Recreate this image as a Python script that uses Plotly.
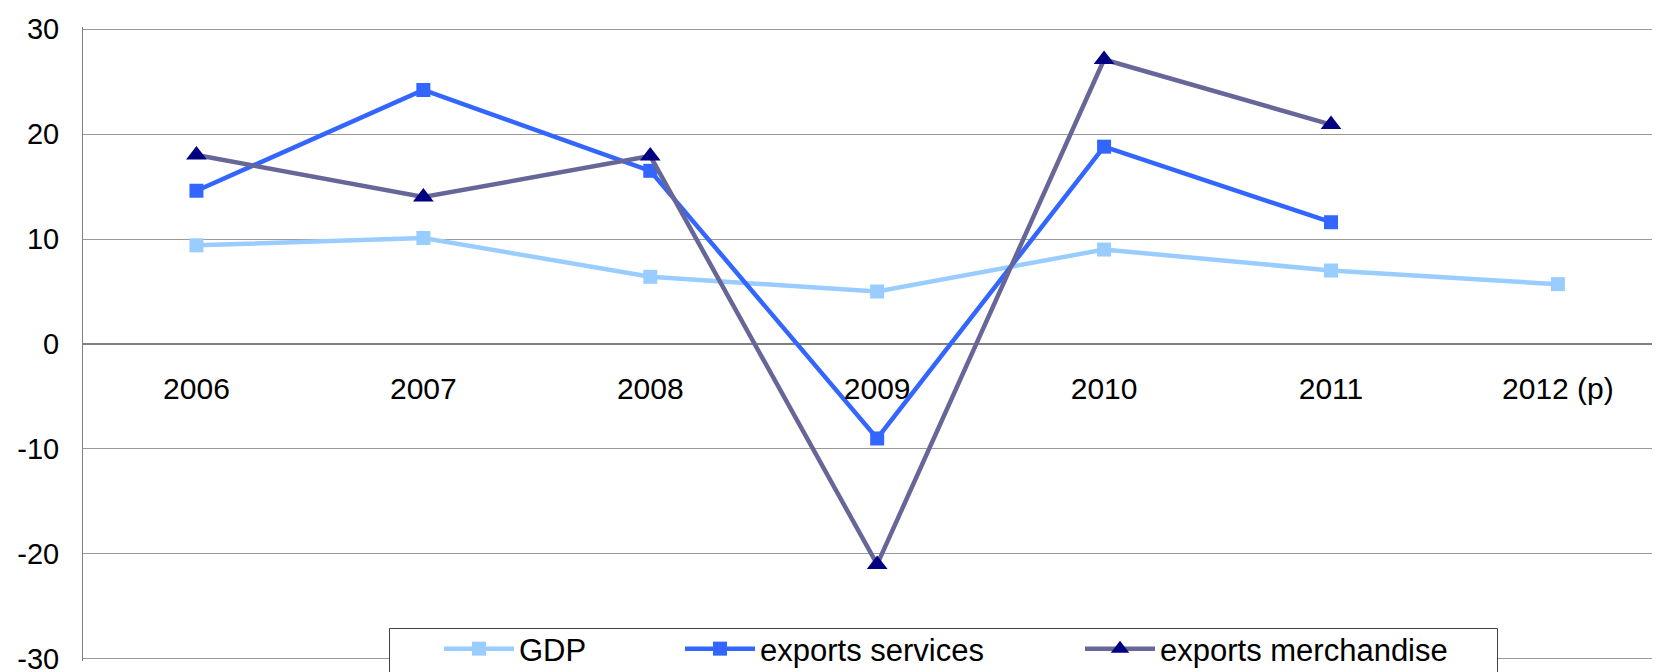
import plotly.graph_objects as go

years = ["2006", "2007", "2008", "2009", "2010", "2011", "2012 (p)"]
gdp = [9.4, 10.1, 6.4, 5.0, 9.0, 7.0, 5.7]
exports_services = [14.6, 24.2, 16.5, -9.0, 18.8, 11.6, None]
exports_merchandise = [18.0, 14.0, 17.9, -21.0, 27.1, 20.9, None]
y_tick_vals = [-30, -20, -10, 0, 10, 20, 30]
y_tick_labels = ["-30", "-20", "-10", "0", "10", "20", "30"]

# page body offset (default browser margin) -> figure starts at (8, 8)
OFF = 8
W, H = 1660 - OFF, 672 - OFF
ML, MR, MT, MB = 75, 0, 19, 11
PW, PH = W - ML - MR, H - MT - MB


def px_x(p):
    return (p - OFF - ML) / PW


def px_y(p):
    return (H - MB - (p - OFF)) / PH


FONT = "Liberation Sans, Arial, sans-serif"

fig = go.Figure()
fig.add_trace(go.Scatter(
    x=years, y=gdp, name="GDP", mode="lines+markers",
    line=dict(color="#99CCFF", width=4.5),
    marker=dict(symbol="square", size=14, color="#99CCFF"),
    legend="legend",
))
fig.add_trace(go.Scatter(
    x=years, y=exports_services, name="exports services", mode="lines+markers",
    line=dict(color="#3366FF", width=4.5),
    marker=dict(symbol="square", size=14, color="#3366FF"),
    legend="legend2",
))
fig.add_trace(go.Scatter(
    x=years, y=exports_merchandise, name="exports merchandise", mode="lines+markers",
    line=dict(color="#666699", width=4.5),
    marker=dict(symbol="triangle-up", size=18, color="#000080"),
    legend="legend3",
))

leg_common = dict(
    orientation="h", bgcolor="rgba(0,0,0,0)", borderwidth=0,
    font=dict(family=FONT, size=31, color="#000000"),
    itemwidth=70, xanchor="left", yanchor="middle", y=px_y(649),
)

fig.update_layout(
    width=W, height=H,
    margin=dict(l=ML, r=MR, t=MT, b=MB, pad=0, autoexpand=False),
    paper_bgcolor="white", plot_bgcolor="white",
    showlegend=True,
    legend=dict(x=px_x(439), **leg_common),
    legend2=dict(x=px_x(680), **leg_common),
    legend3=dict(x=px_x(1080), **leg_common),
    xaxis=dict(
        type="category", range=[-0.5, 6.45],
        anchor="free", position=0.5,
        showgrid=False, showline=False, zeroline=False,
        ticks="", ticklabelstandoff=24,
        tickfont=dict(family=FONT, size=30, color="#000000"),
    ),
    yaxis=dict(
        range=[-30.2, 30.2],
        tickmode="array", tickvals=y_tick_vals, ticktext=y_tick_labels,
        showgrid=True, gridcolor="#999999", gridwidth=1,
        zeroline=True, zerolinecolor="#808080", zerolinewidth=2,
        showline=True, linecolor="#808080", linewidth=1,
        ticks="", ticklabelstandoff=17, ticklabeloverflow="allow",
        tickfont=dict(family=FONT, size=29, color="#000000"),
    ),
    shapes=[dict(
        type="rect", xref="paper", yref="paper",
        x0=px_x(389.5), x1=px_x(1497.5), y0=px_y(628.5), y1=px_y(690),
        line=dict(color="#404040", width=1), fillcolor="white", layer="above",
    )],
)

fig.write_html("out.html")
